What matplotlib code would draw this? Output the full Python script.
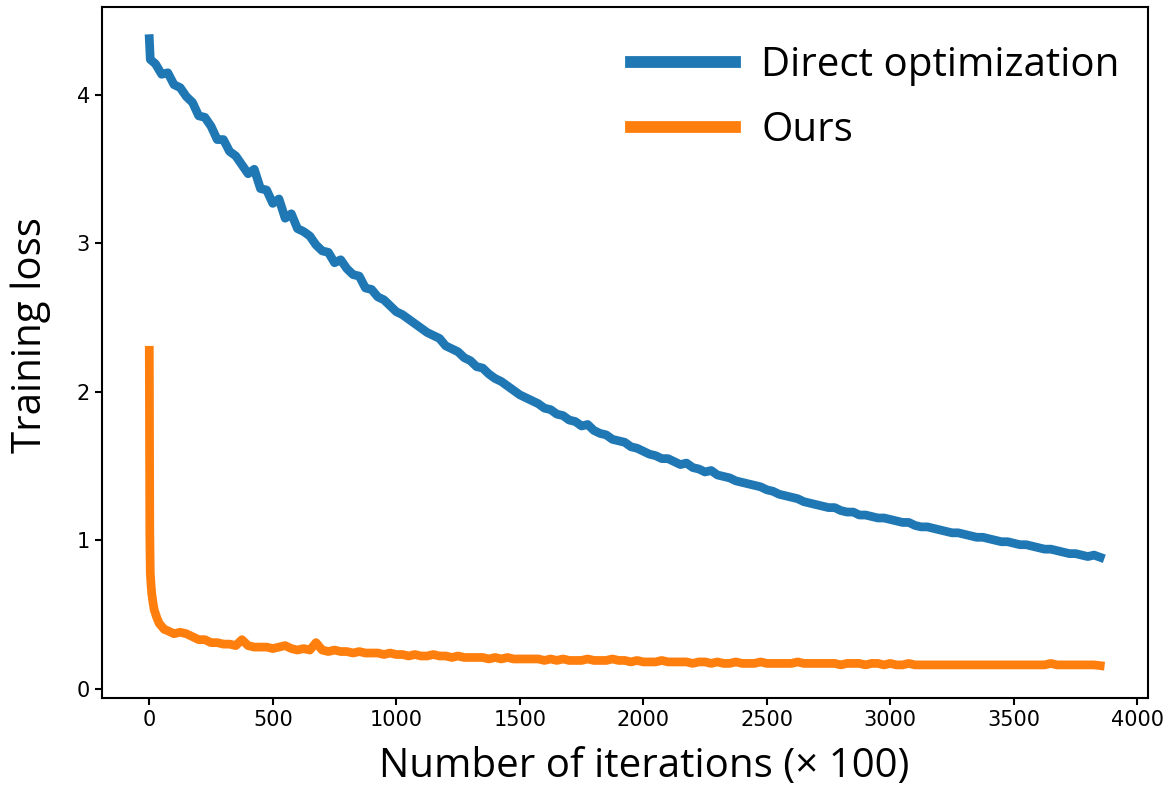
import matplotlib
matplotlib.use('Agg')
import matplotlib.pyplot as plt

# Direct optimization (blue)
direct_x = [0, 4] + list(range(25, 3851, 25))
direct_y = [4.38, 4.24,
    4.21, 4.14, 4.15, 4.07,
    4.05, 3.99, 3.95, 3.86,
    3.85, 3.79, 3.70, 3.70,
    3.62, 3.59, 3.53, 3.47,
    3.50, 3.37, 3.36, 3.27,
    3.30, 3.17, 3.20, 3.10,
    3.08, 3.05, 2.99, 2.95,
    2.94, 2.87, 2.89, 2.83,
    2.79, 2.78, 2.70, 2.69,
    2.64, 2.62, 2.58, 2.54,
    2.52, 2.49, 2.46, 2.43,
    2.40, 2.38, 2.36, 2.31,
    2.29, 2.27, 2.23, 2.21,
    2.17, 2.16, 2.12, 2.09,
    2.07, 2.04, 2.01, 1.98,
    1.96, 1.94, 1.92, 1.89,
    1.88, 1.85, 1.84, 1.81,
    1.80, 1.77, 1.78, 1.74,
    1.72, 1.71, 1.68, 1.67,
    1.66, 1.63, 1.62, 1.60,
    1.58, 1.57, 1.55, 1.55,
    1.53, 1.51, 1.52, 1.49,
    1.48, 1.46, 1.47, 1.44,
    1.43, 1.42, 1.40, 1.39,
    1.38, 1.37, 1.36, 1.34,
    1.33, 1.31, 1.30, 1.29,
    1.28, 1.26, 1.25, 1.24,
    1.23, 1.22, 1.22, 1.20,
    1.19, 1.19, 1.17, 1.17,
    1.16, 1.15, 1.15, 1.14,
    1.13, 1.12, 1.12, 1.10,
    1.09, 1.09, 1.08, 1.07,
    1.06, 1.05, 1.05, 1.04,
    1.03, 1.02, 1.02, 1.01,
    1.00, 0.99, 0.99, 0.98,
    0.97, 0.97, 0.96, 0.95,
    0.94, 0.94, 0.93, 0.92,
    0.91, 0.91, 0.90, 0.89,
    0.90, 0.885]

# Ours (orange)
ours_x = [0, 1, 2, 4, 7, 10, 15, 20, 30, 40, 50, 60, 75, 100] + list(range(125, 3851, 25))
ours_y = [2.28, 1.60, 1.05, 0.78, 0.70, 0.64, 0.58, 0.53, 0.48, 0.44, 0.42, 0.40, 0.39, 0.37,
    0.38, 0.37, 0.35, 0.33,
    0.33, 0.31, 0.31, 0.30,
    0.30, 0.29, 0.33, 0.29,
    0.28, 0.28, 0.28, 0.27,
    0.28, 0.29, 0.27, 0.26,
    0.27, 0.26, 0.31, 0.26,
    0.25, 0.26, 0.25, 0.25,
    0.24, 0.25, 0.24, 0.24,
    0.24, 0.23, 0.24, 0.23,
    0.23, 0.22, 0.23, 0.22,
    0.22, 0.23, 0.22, 0.22,
    0.21, 0.22, 0.21, 0.21,
    0.21, 0.21, 0.20, 0.21,
    0.20, 0.21, 0.20, 0.20,
    0.20, 0.20, 0.20, 0.19,
    0.20, 0.19, 0.20, 0.19,
    0.19, 0.19, 0.20, 0.19,
    0.19, 0.19, 0.20, 0.19,
    0.19, 0.18, 0.19, 0.18,
    0.18, 0.18, 0.19, 0.18,
    0.18, 0.18, 0.18, 0.17,
    0.18, 0.18, 0.17, 0.18,
    0.17, 0.17, 0.18, 0.17,
    0.17, 0.17, 0.18, 0.17,
    0.17, 0.17, 0.17, 0.17,
    0.18, 0.17, 0.17, 0.17,
    0.17, 0.17, 0.17, 0.16,
    0.17, 0.17, 0.17, 0.16,
    0.17, 0.17, 0.16, 0.17,
    0.16, 0.16, 0.17, 0.16,
    0.16, 0.16, 0.16, 0.16,
    0.16, 0.16, 0.16, 0.16,
    0.16, 0.16, 0.16, 0.16,
    0.16, 0.16, 0.16, 0.16,
    0.16, 0.16, 0.16, 0.16,
    0.16, 0.17, 0.16, 0.16,
    0.16, 0.16, 0.16, 0.16,
    0.16, 0.155]

label_font = 'Open Sans'
label_size = 29

fig = plt.figure(figsize=(11.75, 7.88), dpi=100)
ax = fig.add_axes([0.0866, 0.1146, 0.8902, 0.877])

ax.plot(direct_x, direct_y, color='#1f77b4', linewidth=6.3, label='Direct optimization')
ax.plot(ours_x, ours_y, color='#ff7f0e', linewidth=6.3, label='Ours')

ax.set_xlim(-192.5, 4042.5)
ax.set_ylim(-0.061, 4.596)
ax.set_xticks([0, 500, 1000, 1500, 2000, 2500, 3000, 3500, 4000])
ax.set_yticks([0, 1, 2, 3, 4])
ax.tick_params(labelsize=15, width=1.5, length=5)
for s in ax.spines.values():
    s.set_linewidth(1.5)

ax.set_xlabel('Number of iterations (× 100)', family=label_font, fontsize=label_size)
ax.set_ylabel('Training loss', family=label_font, fontsize=label_size)
ax.xaxis.set_label_coords(0.519, -0.07)
ax.yaxis.set_label_coords(-0.049, 0.525)

leg = ax.legend(loc='upper right', frameon=False, prop={'family': label_font, 'size': label_size},
                handlelength=2.6, handletextpad=0.65, labelspacing=0.6,
                bbox_to_anchor=(1.008, 0.996))
for line in leg.get_lines():
    line.set_linewidth(8.5)

fig.savefig('out.png', dpi=100)
